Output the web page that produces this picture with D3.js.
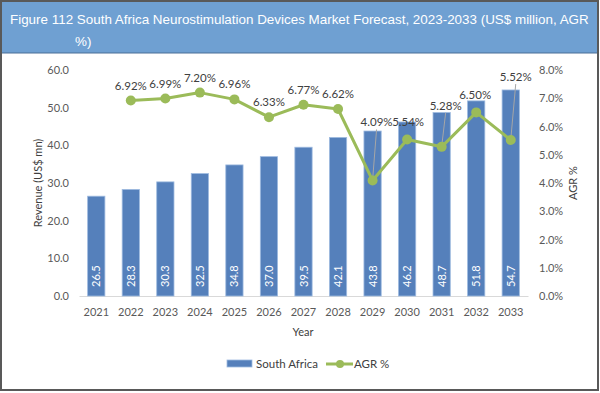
<!DOCTYPE html>
<html>
<head>
<meta charset="utf-8">
<script src="https://cdn.jsdelivr.net/npm/d3@7"></script>
<style>
  html, body { margin: 0; padding: 0; background: #fff; }
  svg text { font-family: Lato, "Open Sans", sans-serif; }
</style>
</head>
<body>
<script>
// chart data
const years = ["2021","2022","2023","2024","2025","2026","2027","2028","2029","2030","2031","2032","2033"];
const revenue = [26.5, 28.3, 30.3, 32.5, 34.8, 37.0, 39.5, 42.1, 43.8, 46.2, 48.7, 51.8, 54.7];
const agr = [null, 6.92, 6.99, 7.20, 6.96, 6.33, 6.77, 6.62, 4.09, 5.54, 5.28, 6.50, 5.52];
const leftTicks = [0, 10, 20, 30, 40, 50, 60];
const rightTicks = [0, 1, 2, 3, 4, 5, 6, 7, 8];

// label placement for the AGR labels (px above point, some pushed up with leader lines)
const labelLift = [0, 15, 15, 15, 15, 15, 15, 15, 58, 17, 41, 17, 63];
const leader = [false, false, false, false, false, false, false, false, true, false, true, false, true];
const labelDx = [0, 0, 0, 0, 0, 0, 0, 0, 4, 1, 4, -1, 5];

const W = 600, H = 393;
const svg = d3.select("body").append("svg").attr("width", W).attr("height", H);

// frame
svg.append("rect").attr("x", 1).attr("y", 1).attr("width", 597).attr("height", 389)
  .attr("fill", "#fff").attr("stroke", "#595959").attr("stroke-width", 2);

// title bar
svg.append("rect").attr("x", 2).attr("y", 2).attr("width", 595).attr("height", 51)
  .attr("fill", "#6fa0d2");
svg.append("line").attr("x1", 2).attr("x2", 597).attr("y1", 53).attr("y2", 53)
  .attr("stroke", "#4a6f97").attr("stroke-width", 1);
const t1 = svg.append("text").attr("x", 10).attr("y", 24)
  .style("font-family", "'Liberation Sans', Arial, sans-serif")
  .attr("font-size", 14).attr("fill", "#fff")
  .text("Figure 112 South Africa Neurostimulation Devices Market Forecast, 2023-2033 (US$ million, AGR");
const fs = 14 * 579 / t1.node().getComputedTextLength();
t1.attr("font-size", fs);
svg.append("text").attr("x", 75).attr("y", 46)
  .style("font-family", "'Liberation Sans', Arial, sans-serif")
  .attr("font-size", fs).attr("fill", "#fff").text("%)");

const x = d3.scaleBand().domain(years).range([79, 528]).paddingInner(0.5).paddingOuter(0.25);
const y = d3.scaleLinear().domain([0, 60]).range([296, 70]);
const y2 = d3.scaleLinear().domain([0, 8]).range([296, 70]);

// axes
const xAxis = svg.append("g").attr("transform", "translate(0,296)")
  .call(d3.axisBottom(x).tickSize(0).tickPadding(12));
xAxis.select(".domain").attr("stroke", "#d9d9d9");
xAxis.selectAll("text").attr("font-size", 11).attr("fill", "#595959");

const yAxis = svg.append("g").attr("transform", "translate(77,0)")
  .call(d3.axisLeft(y).tickValues(leftTicks).tickSize(0).tickPadding(8).tickFormat(d3.format(".1f")));
yAxis.select(".domain").remove();
yAxis.selectAll("text").attr("font-size", 11).attr("fill", "#595959");

const yAxis2 = svg.append("g").attr("transform", "translate(531,0)")
  .call(d3.axisRight(y2).tickValues(rightTicks).tickSize(0).tickPadding(8).tickFormat(d => d.toFixed(1) + "%"));
yAxis2.select(".domain").remove();
yAxis2.selectAll("text").attr("font-size", 11).attr("fill", "#595959");

// axis titles
svg.append("text").attr("transform", "translate(42,183) rotate(-90)")
  .attr("text-anchor", "middle").attr("font-size", 11).attr("fill", "#404040")
  .text("Revenue (US$ mn)");
svg.append("text").attr("transform", "translate(577,183) rotate(-90)")
  .attr("text-anchor", "middle").attr("font-size", 11).attr("fill", "#404040")
  .text("AGR %");
svg.append("text").attr("x", 303).attr("y", 336)
  .attr("text-anchor", "middle").attr("font-size", 11).attr("fill", "#404040")
  .text("Year");

// bars
svg.selectAll("rect.bar").data(revenue).enter().append("rect")
  .attr("class", "bar")
  .attr("x", (d, i) => x(years[i]))
  .attr("y", d => y(d))
  .attr("width", x.bandwidth())
  .attr("height", d => y(0) - y(d))
  .attr("fill", "#5580bb")
  .attr("stroke", "#9fbbe0").attr("stroke-width", 0.8);

// value labels inside bars, written bottom to top
const bl = svg.selectAll("g.barlabel").data(revenue).enter().append("g")
  .attr("class", "barlabel")
  .attr("transform", (d, i) => "translate(" + (x(years[i]) + x.bandwidth() / 2 + 4) + ",287)");
bl.append("text")
  .attr("transform", "rotate(-90)")
  .attr("x", 0).attr("y", 0)
  .attr("font-size", 11).attr("fill", "#fff")
  .text(d => d.toFixed(1));

// AGR line
const pts = agr.map((v, i) => ({ v, i })).filter(d => d.v !== null);
const cx = d => x(years[d.i]) + x.bandwidth() / 2;
svg.append("path").datum(pts)
  .attr("fill", "none").attr("stroke", "#9bbb59").attr("stroke-width", 3)
  .attr("stroke-linejoin", "round")
  .attr("d", d3.line().x(cx).y(d => y2(d.v)));

// leader lines
svg.selectAll("line.leader").data(pts.filter(d => leader[d.i])).enter().append("line")
  .attr("class", "leader")
  .attr("x1", d => cx(d) + labelDx[d.i]).attr("y1", d => y2(d.v) - labelLift[d.i] + 7)
  .attr("x2", cx).attr("y2", d => y2(d.v))
  .attr("stroke", "#a6a6a6").attr("stroke-width", 1);

svg.selectAll("circle.pt").data(pts).enter().append("circle")
  .attr("class", "pt")
  .attr("cx", cx).attr("cy", d => y2(d.v)).attr("r", 5)
  .attr("fill", "#9bbb59");

svg.selectAll("text.agrlabel").data(pts).enter().append("text")
  .attr("class", "agrlabel")
  .attr("x", d => cx(d) + labelDx[d.i])
  .attr("y", d => y2(d.v) - labelLift[d.i] + 4)
  .attr("text-anchor", "middle").attr("font-size", 11.5).attr("fill", "#404040")
  .text(d => d.v.toFixed(2) + "%");

// legend
const lg = svg.append("g");
lg.append("rect").attr("x", 227).attr("y", 360).attr("width", 25).attr("height", 7)
  .attr("fill", "#5580bb").attr("stroke", "#9fbbe0").attr("stroke-width", 0.8);
lg.append("text").attr("x", 256).attr("y", 368).attr("font-size", 11.5).attr("fill", "#404040")
  .text("South Africa");
lg.append("line").attr("x1", 326).attr("x2", 353).attr("y1", 364).attr("y2", 364)
  .attr("stroke", "#9bbb59").attr("stroke-width", 3);
lg.append("circle").attr("cx", 340).attr("cy", 364).attr("r", 4).attr("fill", "#9bbb59");
lg.append("text").attr("x", 354).attr("y", 368).attr("font-size", 11.5).attr("fill", "#404040")
  .text("AGR %");
</script>
</body>
</html>
